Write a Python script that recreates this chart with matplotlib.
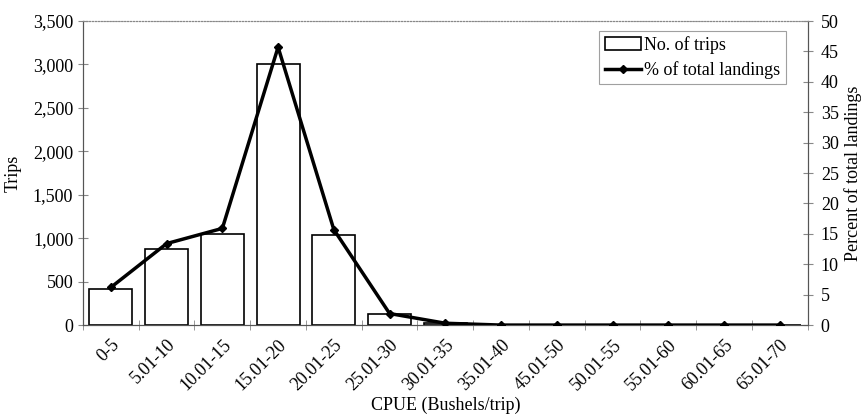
import matplotlib
matplotlib.use("Agg")
import matplotlib.pyplot as plt
import matplotlib.ticker as mticker
import numpy as np

plt.rcParams['font.family'] = ['Liberation Serif', 'DejaVu Serif']

categories = ["0-5", "5.01-10", "10.01-15", "15.01-20", "20.01-25", "25.01-30",
              "30.01-35", "35.01-40", "45.01-50", "50.01-55", "55.01-60",
              "60.01-65", "65.01-70"]
trips = [410, 880, 1050, 3000, 1040, 130, 20, 0, 0, 0, 0, 0, 0]
pct_landings = [6.2, 13.4, 15.9, 45.7, 15.7, 1.9, 0.3, 0.0, 0.0, 0.0, 0.0, 0.0, 0.0]

fs = 13
fig = plt.figure(figsize=(8.61, 4.2), dpi=100)
ax = fig.add_axes([0.0964, 0.226, 0.8416, 0.724])
x = np.arange(len(categories))

ax.bar(x, trips, width=0.77, facecolor="white", edgecolor="black", linewidth=1.2,
       label="No. of trips", zorder=2)
ax.set_xlim(-0.5, len(categories) - 0.5)
ax.set_ylim(0, 3500)
ax.yaxis.set_major_locator(mticker.MultipleLocator(500))
ax.yaxis.set_major_formatter(mticker.StrMethodFormatter("{x:,.0f}"))
ax.set_ylabel("Trips", fontsize=fs, labelpad=8)
ax.set_xlabel("CPUE (Bushels/trip)", fontsize=fs, labelpad=2)

# category labels at centres, tick marks between categories
ax.set_xticks(x)
ax.set_xticklabels(categories, rotation=45, ha="right", rotation_mode="anchor", fontsize=fs)
ax.tick_params(axis="x", which="major", length=0, pad=8)
ax.set_xticks(np.arange(-0.5, len(categories)), minor=True)
ax.tick_params(axis="x", which="minor", direction="inout", length=7, color="#888888")
ax.tick_params(axis="y", direction="inout", length=7, labelsize=fs, color="#888888")

ax2 = ax.twinx()
ax2.plot(x, pct_landings, color="black", linewidth=2.5, marker="D", markersize=4.5,
         label="% of total landings", zorder=3)
ax2.set_ylim(0, 50)
ax2.yaxis.set_major_locator(mticker.MultipleLocator(5))
ax2.tick_params(axis="y", direction="inout", length=7, labelsize=fs, color="#888888", pad=6)
ax2.set_ylabel("Percent of total landings", fontsize=fs, labelpad=4)

for a in (ax, ax2):
    a.spines["top"].set_linestyle(":")
    a.spines["top"].set_color("#888888")
    a.spines["left"].set_color("#555555")
    a.spines["right"].set_color("#555555")
    a.spines["bottom"].set_color("#555555")

h1, l1 = ax.get_legend_handles_labels()
h2, l2 = ax2.get_legend_handles_labels()
leg = ax2.legend(h1 + h2, l1 + l2, loc="upper right", bbox_to_anchor=(0.975, 0.98),
                 fontsize=fs, frameon=True, fancybox=False, edgecolor="#888888",
                 handlelength=2.0, handleheight=0.7, borderpad=0.3, labelspacing=0.4,
                 handletextpad=0.2, borderaxespad=0.2)
leg.get_frame().set_linewidth(0.8)

fig.savefig("out.png", dpi=100)
